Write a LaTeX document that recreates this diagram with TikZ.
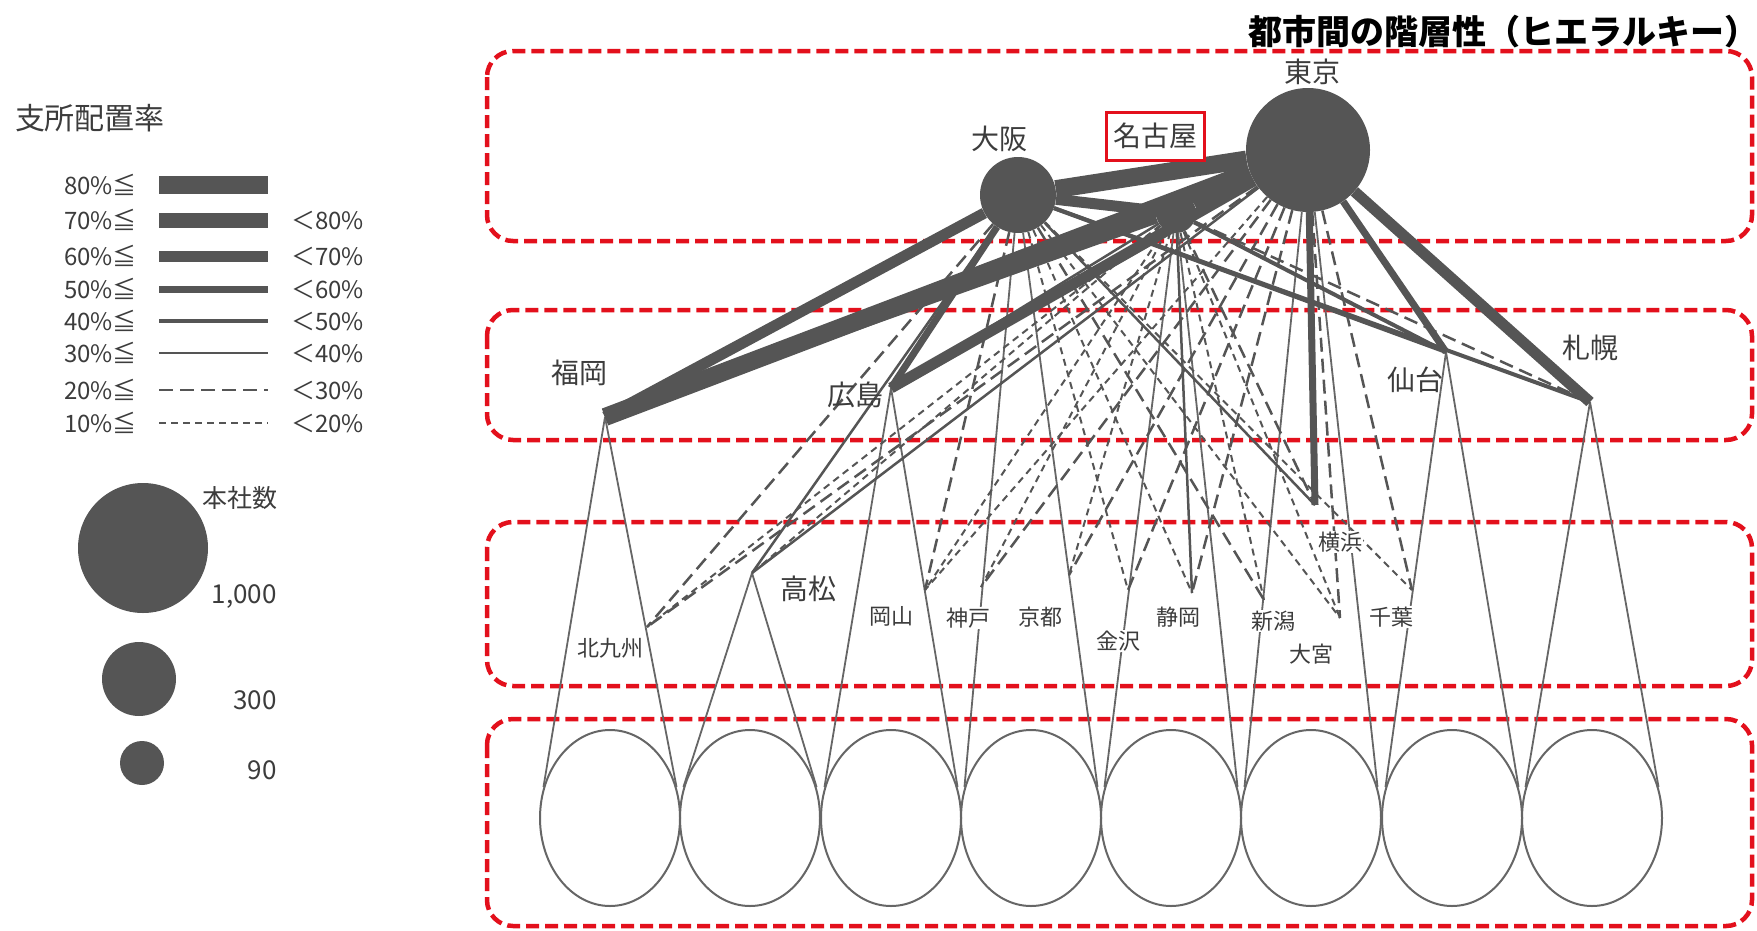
\documentclass[tikz,border=0pt]{standalone}
\usepackage{fontspec}
\setmainfont{Noto Sans CJK JP}
\usetikzlibrary{shapes.geometric}
\definecolor{lk}{HTML}{555555}
\definecolor{tx}{HTML}{3C3C3C}
\definecolor{bx}{HTML}{E3101C}

\begin{document}
\begin{tikzpicture}[x=1pt,y=-1pt,
    p80/.style={lk,line width=18pt},
    p70/.style={lk,line width=15pt},
    p60/.style={lk,line width=11pt},
    p50/.style={lk,line width=7pt},
    p40/.style={lk,line width=4pt},
    p30/.style={lk,line width=2.5pt},
    p20/.style={lk,line width=2.5pt,dash pattern=on 14pt off 7pt},
    p10/.style={lk,line width=2pt,dash pattern=on 7pt off 5pt},
    cone/.style={lk!90,line width=1.8pt},
    zone/.style={bx,line width=4.5pt,dash pattern=on 13pt off 6pt,rounded corners=26pt},
    city/.style={circle,fill=lk,inner sep=0pt},
    lbl/.style={text=tx,font=\fontsize{28}{30}\selectfont,inner sep=1pt},
    sml/.style={text=tx,font=\fontsize{22}{24}\selectfont,fill=white,inner sep=1pt},
    leg/.style={text=tx,font=\fontsize{24}{26}\selectfont,inner sep=0pt},
    ring/.style={ellipse,draw=lk!90,line width=2pt,minimum width=140pt,minimum height=176pt,inner sep=0pt}]
  \useasboundingbox (0,0) rectangle (1757,930);

  % legend: share of branch offices
  \node[text=tx,font=\fontsize{30}{32}\selectfont] (lg) at (90,118) {支所配置率};
  \foreach \v/\y/\s in {80/185/p80,70/220/p70,60/256/p60,50/289/p50,40/321/p40,30/353/p30,20/390/p20,10/423/p10}{
    \draw[\s] (159,\y) -- (268,\y);
    \node[leg,anchor=east] (lgl\v) at (137,\y) {\v\%≦};
  }
  \foreach \v/\y in {80/220,70/256,60/289,50/321,40/353,30/390,20/423}
    \node[leg,anchor=west] (lgr\v) at (291,\y) {＜\v\%};

  % legend: head offices
  \node[city,minimum size=130pt] (c1000) at (143,548) {};
  \node[city,minimum size=74pt] (c300) at (139,679) {};
  \node[city,minimum size=44pt] (c90) at (142,763) {};
  \node[leg,font=\fontsize{25}{27}\selectfont] (hq) at (240,498) {本社数};
  \node[leg,anchor=east,font=\fontsize{26}{28}\selectfont] (n1000) at (277,597) {1,000};
  \node[leg,anchor=east,font=\fontsize{26}{28}\selectfont] (n300) at (277,700) {300};
  \node[leg,anchor=east,font=\fontsize{26}{28}\selectfont] (n90) at (277,770) {90};

  % tiers
  \draw[zone] (487,51) rectangle (1752,241);
  \draw[zone] (487,310) rectangle (1752,440);
  \draw[zone] (487,522) rectangle (1752,686);
  \draw[zone] (487,719) rectangle (1752,926);
  \node[inner sep=0pt,font=\bfseries\fontsize{34}{36}\selectfont] (ttl) at (1503,32) {都市間の階層性（ヒエラルキー）};

  \foreach \i/\x in {1/610,2/750,3/891,4/1031,5/1171,6/1311,7/1452,8/1592}
    \node[ring] (e\i) at (\x,818) {};

  \node[city,minimum size=124pt] (t) at (1308,150) {};
  \node[city,minimum size=76pt] (o) at (1018,195) {};
  \node[city,minimum size=40pt] (n) at (1176,213) {};
  \coordinate (f) at (605,417);
  \coordinate (h) at (891,388);
  \coordinate (sd) at (1446,352);
  \coordinate (sp) at (1590,402);
  \coordinate (kk) at (647,627);
  \coordinate (tk) at (752,573);
  \coordinate (ok) at (925,590);
  \coordinate (kb) at (981,587);
  \coordinate (ky) at (1069,575);
  \coordinate (kz) at (1128,590);
  \coordinate (sz) at (1192,593);
  \coordinate (ng) at (1264,600);
  \coordinate (om) at (1340,618);
  \coordinate (yk) at (1315,505);
  \coordinate (cb) at (1412,590);

  \foreach \a/\i in {f/1,tk/2,h/3,o/4,n/5,t/6,sd/7,sp/8}{
    \draw[cone] (\a) -- (e\i.155);
    \draw[cone] (\a) -- (e\i.25);
  }

  \draw[p80] (t) -- (o);
  \draw[p70] (t) -- (n);
  \draw[p60] (o) -- (n);
  \draw[p80] (t) -- (f);
  \draw[p60] (o) -- (f);
  \draw[p50] (n) -- (f);
  \draw[p60] (t) -- (h);
  \draw[p50] (o) -- (h);
  \draw[p30] (n) -- (h);
  \draw[p50] (t) -- (sd);
  \draw[p40] (o) -- (sd);
  \draw[p40] (n) -- (sd);
  \draw[p60] (t) -- (sp);
  \draw[p40] (o) -- (sp);
  \draw[p20] (n) -- (sp);

  \draw[p20] (t) -- (kk); \draw[p20] (o) -- (kk); \draw[p10] (n) -- (kk);
  \draw[p30] (o) -- (tk); \draw[p30] (t) -- (tk); \draw[p10] (n) -- (tk);
  \draw[p20] (o) -- (ok); \draw[p10] (t) -- (ok); \draw[p10] (n) -- (ok);
  \draw[p20] (t) -- (kb); \draw[p10] (n) -- (kb);
  \draw[p20] (t) -- (ky); \draw[p10] (n) -- (ky);
  \draw[p20] (t) -- (kz); \draw[p10] (o) -- (kz);
  \draw[p30] (n) -- (sz); \draw[p20] (t) -- (sz); \draw[p10] (o) -- (sz);
  \draw[p20] (o) -- (ng); \draw[p10] (n) -- (ng);
  \draw[p10] (o) -- (om); \draw[p10] (n) -- (om); \draw[p20] (t) -- (om);
  \draw[p50] (t) -- (yk); \draw[p30] (o) -- (yk); \draw[p20] (n) -- (yk);
  \draw[p20] (t) -- (cb); \draw[p10] (o) -- (cb);

  % city names
  \node[lbl] (lt) at (1312,72) {東京};
  \node[lbl] (lo) at (999,139) {大阪};
  \node[lbl,fill=white,draw=bx,line width=3pt,minimum width=98pt,minimum height=48pt] (ln) at (1155,136) {名古屋};
  \node[lbl] (lf) at (579,373) {福岡};
  \node[lbl] (lh) at (855,395) {広島};
  \node[lbl] (lsd) at (1415,380) {仙台};
  \node[lbl] (lsp) at (1590,348) {札幌};
  \node[sml] (lkk) at (610,648) {北九州};
  \node[lbl,fill=white] (ltk) at (808,589) {高松};
  \node[sml] (lok) at (891,616) {岡山};
  \node[sml] (lkb) at (968,618) {神戸};
  \node[sml] (lky) at (1040,617) {京都};
  \node[sml] (lkz) at (1118,641) {金沢};
  \node[sml] (lsz) at (1178,617) {静岡};
  \node[sml] (lng) at (1273,621) {新潟};
  \node[sml] (lom) at (1311,654) {大宮};
  \node[sml] (lyk) at (1340,542) {横浜};
  \node[sml] (lcb) at (1391,617) {千葉};
\end{tikzpicture}
\end{document}
